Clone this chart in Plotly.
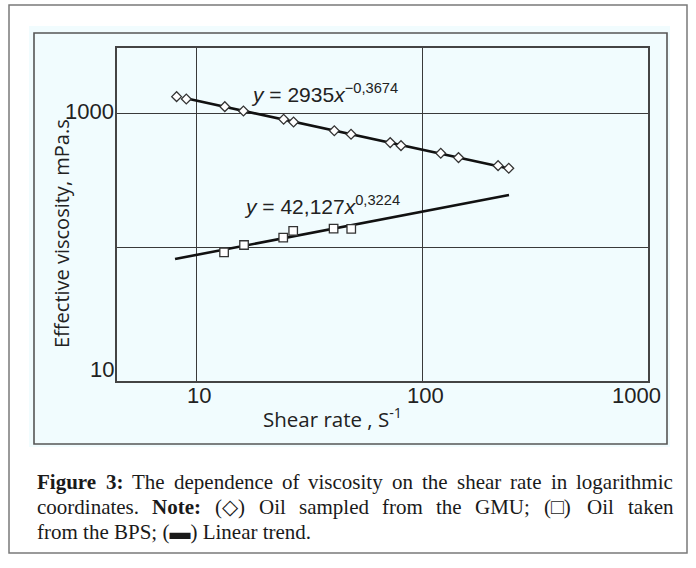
import plotly.graph_objects as go
import math

# ---------------- data ----------------
gmu_shear = [8.2, 9.05, 13.4, 16.2, 24.4, 27.0, 40.9, 48.5, 72.3, 80.7, 121, 145, 217, 242]
gmu_visc = [1348, 1295, 1134, 1053, 913, 871, 749, 705, 610, 579, 508, 471, 410, 392]

bps_shear = [13.3, 16.3, 24.3, 26.9, 40.6, 48.6]
bps_visc = [92.0, 104.4, 118.4, 133.0, 138.3, 138.0]

gmu_trend_x = [9.0, 242]
gmu_trend_y = [1310, 391]
bps_trend_x = [8.07, 242.6]
bps_trend_y = [82.0, 247.0]

x_ticks = [10, 100, 1000]
x_tick_labels = ["10", "100", "1000"]
y_ticks = [10, 1000]
y_tick_labels = ["10", "1000"]
y_grid = [100, 1000]
x_grid = [10, 100]

eq_gmu = "<i>y</i> = 2935<i>x</i><sup>−0,3674</sup>"
eq_bps = "<i>y</i> = 42,127<i>x</i><sup>0,3224</sup>"

# caption words: (text, bold)
cap_line1 = [("Figure", True), ("3:", True), ("The", False), ("dependence", False), ("of", False),
             ("viscosity", False), ("on", False), ("the", False), ("shear", False), ("rate", False),
             ("in", False), ("logarithmic", False)]
cap_line2 = [("coordinates.", False), ("Note:", True), ("(◇)", False), ("Oil", False),
             ("sampled", False), ("from", False), ("the", False), ("GMU;", False), ("(□)", False),
             ("Oil", False), ("taken", False)]
cap_line3 = "from the BPS; (<b>▬</b>) Linear trend."

# ---------------- layout helpers (pixels -> paper) ----------------
W, H = 696, 568
PL, PR, PT, PB = 117, 648, 48, 381


def px(x):
    return (x - PL) / (PR - PL)


def py(y):
    return (PB - y) / (PB - PT)


# Times-compatible advance widths (per 1000 em) for justifying the caption
TW = {' ': 250, 'a': 444, 'b': 500, 'c': 444, 'd': 500, 'e': 444, 'f': 333, 'g': 500, 'h': 500,
      'i': 278, 'j': 278, 'k': 500, 'l': 278, 'm': 778, 'n': 500, 'o': 500, 'p': 500, 'q': 500,
      'r': 333, 's': 389, 't': 278, 'u': 500, 'v': 500, 'w': 722, 'x': 500, 'y': 500, 'z': 444,
      'B': 667, 'F': 556, 'G': 722, 'M': 889, 'N': 722, 'O': 722, 'P': 556, 'S': 556, 'T': 611,
      'U': 722, 'L': 611, '3': 500, ':': 278, ';': 278, '.': 250, ',': 250, '(': 333, ')': 333,
      '◇': 780, '□': 780}
TWB = dict(TW)
TWB.update({'F': 611, 'i': 278, 'g': 500, 'u': 556, 'r': 444, 'e': 444, '3': 500, ':': 333,
            'N': 722, 'o': 500, 't': 333})


def word_width(w, bold, size):
    tab = TWB if bold else TW
    return sum(tab.get(c, 500) for c in w) * size / 1000.0


INK = "#222222"
GRID = "#3a3a3a"
PANEL = "#f1fcfe"

fig = go.Figure()

fig.add_trace(go.Scatter(x=gmu_trend_x, y=gmu_trend_y, mode="lines",
                         line=dict(color="#111111", width=2.6), showlegend=False, hoverinfo="skip"))
fig.add_trace(go.Scatter(x=bps_trend_x, y=bps_trend_y, mode="lines",
                         line=dict(color="#111111", width=2.6), showlegend=False, hoverinfo="skip"))
fig.add_trace(go.Scatter(x=gmu_shear, y=gmu_visc, mode="markers", name="GMU",
                         marker=dict(symbol="diamond", size=7.5, color="white",
                                     line=dict(color="#333333", width=1.3)), showlegend=False))
fig.add_trace(go.Scatter(x=bps_shear, y=bps_visc, mode="markers", name="BPS",
                         marker=dict(symbol="square", size=8.5, color="white",
                                     line=dict(color="#333333", width=1.3)), showlegend=False))

shapes = [
    dict(type="rect", xref="paper", yref="paper", x0=px(9), x1=px(687), y0=py(5), y1=py(553),
         line=dict(color="#7a7a7a", width=1.5), fillcolor="white", layer="below"),
    dict(type="rect", xref="paper", yref="paper", x0=px(29), x1=px(670), y0=py(26), y1=py(447),
         line=dict(width=0), fillcolor=PANEL, layer="below"),
    dict(type="rect", xref="paper", yref="paper", x0=px(34), x1=px(667), y0=py(33), y1=py(444),
         line=dict(color="#555555", width=1.6), fillcolor="rgba(0,0,0,0)", layer="below"),
]

annotations = []
annotations.append(dict(text=eq_gmu, xref="paper", yref="paper", x=px(249), y=py(93),
                        xanchor="left", yanchor="middle", showarrow=False,
                        font=dict(family="Liberation Sans", size=21, color=INK)))
annotations.append(dict(text=eq_bps, xref="paper", yref="paper", x=px(242), y=py(205),
                        xanchor="left", yanchor="middle", showarrow=False,
                        font=dict(family="Liberation Sans", size=21, color=INK)))

for i, (v, lab) in enumerate(zip(x_ticks, x_tick_labels)):
    last = i == len(x_ticks) - 1
    annotations.append(dict(text=lab, xref="x", yref="paper", x=math.log10(v), y=py(395),
                            xanchor="right" if last else "center", yanchor="middle",
                            xshift=15 if last else 3, showarrow=False,
                            font=dict(family="Liberation Sans", size=22, color=INK)))
for i, (v, lab) in enumerate(zip(y_ticks, y_tick_labels)):
    first = i == 0
    annotations.append(dict(text=lab, xref="paper", yref="y", x=px(116), y=math.log10(v),
                            xanchor="right", yanchor="bottom" if first else "middle",
                            yshift=-3 if first else 2, showarrow=False,
                            font=dict(family="Liberation Sans", size=22, color=INK)))

annotations.append(dict(text="Shear rate , S<sup>-1</sup>", xref="paper", yref="paper",
                        x=px(332), y=py(418), xanchor="center", yanchor="middle", showarrow=False,
                        font=dict(family="Open Sans", size=20.5, color=INK)))
annotations.append(dict(text="Effective viscosity, mPa.s", xref="paper", yref="paper",
                        x=px(61), y=py(234), xanchor="center", yanchor="middle", textangle=-90,
                        showarrow=False, font=dict(family="Open Sans", size=20, color=INK)))

# caption (justified lines built word by word)
CAP_SIZE = 21
CAP_L, CAP_R = 35, 671
cap_font = dict(family="Liberation Serif", size=CAP_SIZE, color="#1a1a1a")
for k, words in enumerate([cap_line1, cap_line2]):
    widths = [word_width(w, b, CAP_SIZE) for w, b in words]
    gap = (CAP_R - CAP_L - sum(widths)) / (len(words) - 1)
    xcur = CAP_L
    for (w, b), wd in zip(words, widths):
        annotations.append(dict(text=f"<b>{w}</b>" if b else w, xref="paper", yref="paper",
                                x=px(xcur), y=py(482 + 25 * k), xanchor="left", yanchor="middle",
                                showarrow=False, font=cap_font))
        xcur += wd + gap
annotations.append(dict(text=cap_line3, xref="paper", yref="paper", x=px(CAP_L), y=py(532),
                        xanchor="left", yanchor="middle", showarrow=False, font=cap_font))

fig.update_layout(
    width=W, height=H,
    margin=dict(l=PL, r=W - PR, t=PT, b=H - PB, pad=0),
    paper_bgcolor="white", plot_bgcolor=PANEL,
    shapes=shapes, annotations=annotations,
    xaxis=dict(type="log", range=[0.65, 3.0], tickvals=x_grid, showticklabels=False,
               showgrid=True, gridcolor=GRID, gridwidth=1.3, zeroline=False,
               showline=True, mirror=True, linecolor="#444444", linewidth=1.8, ticks=""),
    yaxis=dict(type="log", range=[1.0, 3.494], tickvals=y_grid, showticklabels=False,
               showgrid=True, gridcolor=GRID, gridwidth=1.3, zeroline=False,
               showline=True, mirror=True, linecolor="#444444", linewidth=1.8, ticks=""),
)

fig.write_html("out.html")
